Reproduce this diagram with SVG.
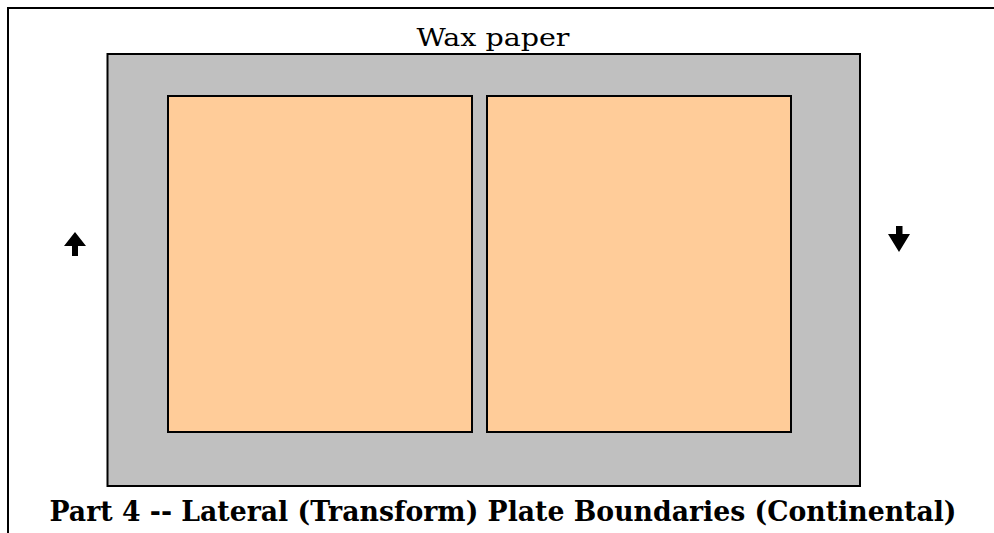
<svg xmlns="http://www.w3.org/2000/svg" width="994" height="533" viewBox="0 0 994 533">
<style>
.plate{fill:#ffcc99;stroke:#000;stroke-width:2}
.arrow{fill:#000}
</style>
<rect x="0" y="0" width="994" height="533" fill="#fff"/>
<g id="frame" fill="none" stroke="#000" stroke-width="2">
<path d="M8 533 V8 H994"/>
</g>
<g id="wax-paper">
<rect x="107.5" y="54" width="752.5" height="432" fill="#c0c0c0" stroke="#000" stroke-width="2"/>
<text x="493" y="46" text-anchor="middle" font-family="DejaVu Serif, serif" font-size="25" textLength="153" lengthAdjust="spacingAndGlyphs">Wax paper</text>
</g>
<g id="plate-left"><rect class="plate" x="168" y="96" width="304" height="336"/></g>
<g id="plate-right"><rect class="plate" x="487" y="96" width="304" height="336"/></g>
<g id="arrows">
<path class="arrow" d="M75 232 L86 246 H78 V256 H72 V246 H64 Z"/>
<path class="arrow" d="M899 252 L910 234 H902.5 V226 H896 V234 H888 Z"/>
</g>
<text x="503" y="521" text-anchor="middle" font-family="DejaVu Serif, serif" font-weight="bold" font-size="27" textLength="907" lengthAdjust="spacingAndGlyphs">Part 4 -- Lateral (Transform) Plate Boundaries (Continental)</text>
</svg>
